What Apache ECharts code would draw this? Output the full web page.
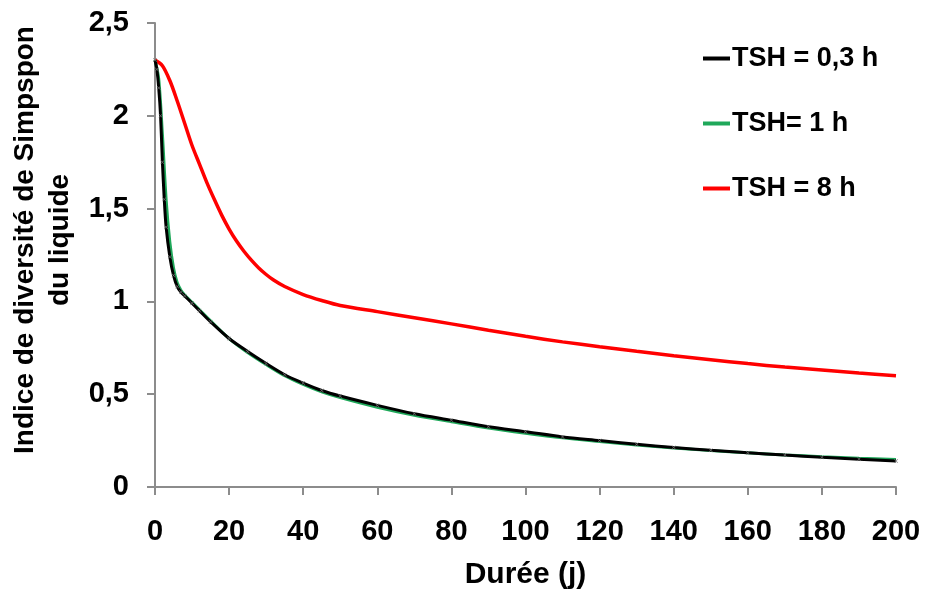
<!DOCTYPE html>
<html>
<head>
<meta charset="utf-8">
<script src="https://cdn.jsdelivr.net/npm/echarts@6/dist/echarts.min.js"></script>
<style>html,body{margin:0;padding:0;background:#fff}#c{width:925px;height:597px}</style>
</head>
<body>
<div id="c"></div>
<script>
var xTicks = [0, 20, 40, 60, 80, 100, 120, 140, 160, 180, 200];
var yTicks = ['0', '0,5', '1', '1,5', '2', '2,5'];
var seriesNames = ['TSH = 0,3 h', 'TSH= 1 h', 'TSH = 8 h'];

var daysBlack = [0, 0.5, 1, 1.5, 2, 2.5, 3, 4, 5, 6, 7, 8, 10, 12, 15, 20, 25, 30, 35, 40, 45, 50, 60, 70, 80, 90, 100, 110, 120, 130, 140, 150, 160, 170, 180, 190, 200];
var valsBlack = [2.30, 2.25, 2.15, 2.00, 1.75, 1.55, 1.40, 1.24, 1.14, 1.08, 1.05, 1.03, 0.99, 0.95, 0.89, 0.80, 0.73, 0.665, 0.605, 0.56, 0.52, 0.49, 0.44, 0.395, 0.36, 0.325, 0.298, 0.27, 0.25, 0.23, 0.213, 0.198, 0.185, 0.172, 0.16, 0.15, 0.14];

var daysGreen = [0, 1, 2, 3, 4, 5, 6, 7, 8, 10, 12, 15, 20, 25, 30, 35, 40, 45, 50, 60, 70, 80, 90, 100, 110, 120, 130, 140, 150, 160, 170, 180, 190, 200];
var valsGreen = [2.30, 2.20, 1.90, 1.55, 1.32, 1.18, 1.10, 1.06, 1.035, 0.995, 0.955, 0.895, 0.80, 0.725, 0.66, 0.60, 0.553, 0.513, 0.482, 0.43, 0.387, 0.352, 0.318, 0.29, 0.265, 0.245, 0.226, 0.21, 0.196, 0.184, 0.173, 0.163, 0.155, 0.148];

var daysRed = [0, 2, 4, 6, 8, 10, 12, 14, 16, 18, 20, 22, 24, 26, 28, 30, 32, 35, 40, 45, 50, 60, 70, 80, 90, 100, 110, 120, 130, 140, 150, 160, 170, 180, 190, 200];
var valsRed = [2.30, 2.27, 2.19, 2.08, 1.96, 1.84, 1.74, 1.64, 1.55, 1.465, 1.39, 1.325, 1.27, 1.222, 1.18, 1.145, 1.115, 1.08, 1.037, 1.005, 0.978, 0.945, 0.912, 0.879, 0.845, 0.812, 0.782, 0.756, 0.731, 0.707, 0.686, 0.665, 0.646, 0.63, 0.614, 0.60];

function pairs(xs, ys) { return xs.map(function (x, i) { return [x, ys[i]]; }); }

var FONT = '"Liberation Sans", Arial, sans-serif';
var axisGray = '#8c8c8c';
var chart = echarts.init(document.getElementById('c'), null, { renderer: 'canvas' });
var crossPath = 'path://M0,1L1,0L5,4L9,0L10,1L6,5L10,9L9,10L5,6L1,10L0,9L4,5Z';

chart.setOption({
  animation: false,
  backgroundColor: '#fff',
  grid: { left: 155, right: 29, top: 23, bottom: 110, containLabel: false, outerBoundsMode: 'none' },
  legend: {
    orient: 'vertical',
    left: 698,
    top: 40,
    itemGap: 38,
    itemWidth: 27,
    itemHeight: 4,
    icon: 'rect',
    textStyle: { fontFamily: FONT, fontWeight: 'bold', fontSize: 27, color: '#000', padding: [0, 0, 0, -3] },
    data: [
      { name: seriesNames[0], itemStyle: { color: '#000' } },
      { name: seriesNames[1], itemStyle: { color: '#1fa85a' } },
      { name: seriesNames[2], itemStyle: { color: '#ff0000' } }
    ]
  },
  xAxis: {
    type: 'value',
    min: 0, max: 200, interval: 20,
    name: 'Durée (j)',
    nameLocation: 'middle',
    nameGap: 73,
    nameTextStyle: { fontFamily: FONT, fontWeight: 'bold', fontSize: 30, color: '#000' },
    axisLine: { show: true, lineStyle: { color: axisGray, width: 2 } },
    axisTick: { show: true, length: 8, inside: false, lineStyle: { color: axisGray, width: 2 } },
    axisLabel: {
      margin: 30, fontFamily: FONT, fontWeight: 'bold', fontSize: 29, color: '#000',
      formatter: function (v) { return xTicks.indexOf(v) >= 0 ? String(v) : ''; }
    },
    splitLine: { show: false }
  },
  yAxis: {
    type: 'value',
    min: 0, max: 2.5, interval: 0.5,
    name: 'Indice de diversité de Simpspon\ndu liquide',
    nameLocation: 'middle',
    nameRotate: 90,
    nameGap: 70,
    nameTextStyle: { fontFamily: FONT, fontWeight: 'bold', fontSize: 28, color: '#000', lineHeight: 35, padding: [0, 0, 0, 30] },
    axisLine: { show: true, lineStyle: { color: axisGray, width: 2 } },
    axisTick: { show: true, length: 8, inside: false, lineStyle: { color: axisGray, width: 2 } },
    axisLabel: {
      margin: 26, fontFamily: FONT, fontWeight: 'bold', fontSize: 29, color: '#000',
      formatter: function (v) { return yTicks[Math.round(v / 0.5)]; }
    },
    splitLine: { show: false }
  },
  series: [
    {
      name: seriesNames[0], type: 'line', data: pairs(daysBlack, valsBlack),
      smooth: 0.3,
      symbol: crossPath, symbolSize: 4, showAllSymbol: true,
      itemStyle: { color: '#777' },
      lineStyle: { color: '#000', width: 3 }, z: 4
    },
    {
      name: seriesNames[1], type: 'line', data: pairs(daysGreen, valsGreen),
      smooth: 0.3, symbol: 'none',
      itemStyle: { color: '#1fa85a' },
      lineStyle: { color: '#1fa85a', width: 3 }, z: 3
    },
    {
      name: seriesNames[2], type: 'line', data: pairs(daysRed, valsRed),
      smooth: 0.3, symbol: 'none',
      itemStyle: { color: '#ff0000' },
      lineStyle: { color: '#ff0000', width: 3.5 }, z: 2
    }
  ]
});
</script>
</body>
</html>
